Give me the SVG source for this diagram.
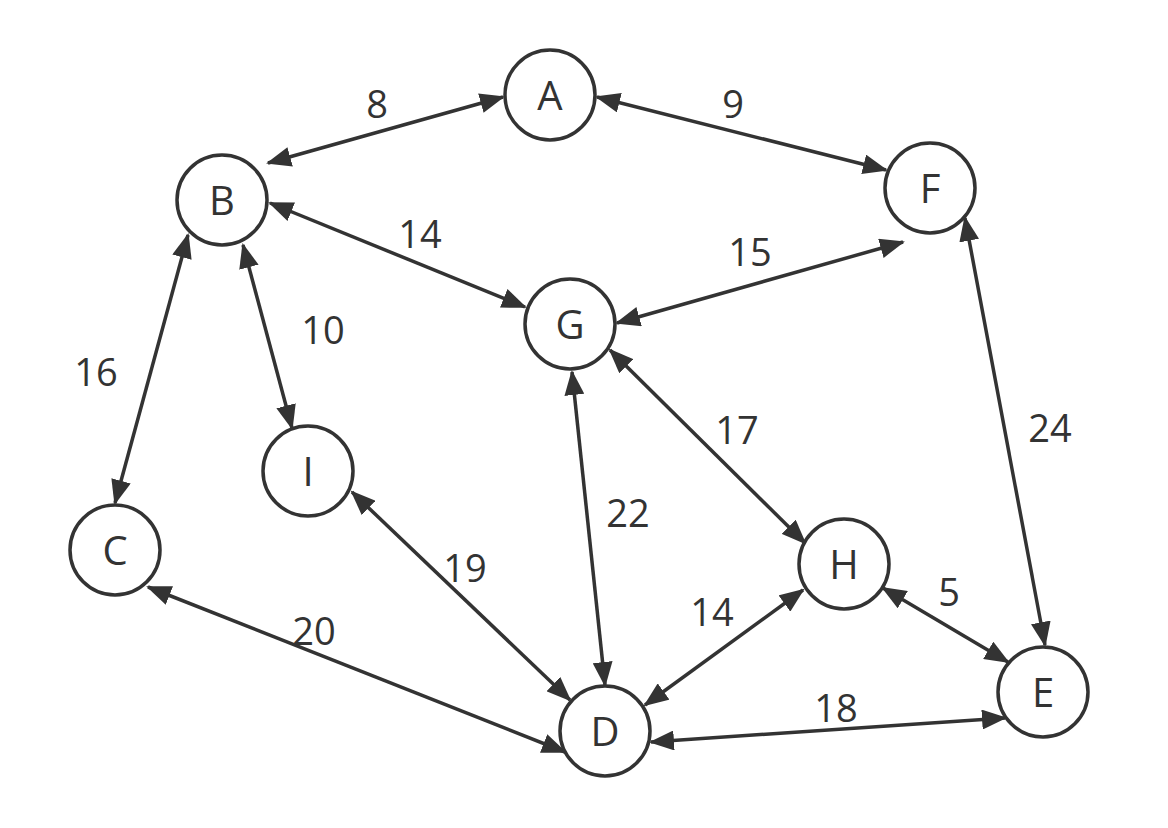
<svg xmlns="http://www.w3.org/2000/svg" width="1168" height="828" viewBox="0 0 1168 828">
<style>
.node circle{fill:#fff;stroke:#333;stroke-width:3.5}
text{font-family:"Open Sans","Noto Sans","DejaVu Sans",sans-serif;font-size:38px;fill:#333;text-anchor:middle}
.node text{font-size:40px}
.edges line{stroke:#333;stroke-width:3.5;marker-start:url(#arr);marker-end:url(#arr)}
</style>
<defs>
<marker id="arr" viewBox="0 0 25 20" markerUnits="userSpaceOnUse" markerWidth="25" markerHeight="20" refX="23" refY="10" orient="auto-start-reverse">
<path d="M0,0 L25,10 L0,20 z" fill="#333"/>
</marker>
</defs>
<rect width="1168" height="828" fill="#fff"/>
<g class="edges" id="connectors">
<line x1="268" y1="163" x2="503" y2="97"/>
<line x1="597" y1="97" x2="886" y2="170"/>
<line x1="270" y1="203" x2="525" y2="307"/>
<line x1="243" y1="245" x2="292" y2="428"/>
<line x1="188" y1="235" x2="115" y2="503"/>
<line x1="903" y1="242" x2="617" y2="323"/>
<line x1="965" y1="218" x2="1045" y2="645"/>
<line x1="572" y1="372" x2="605" y2="685"/>
<line x1="610" y1="350" x2="805" y2="543"/>
<line x1="352" y1="492" x2="570" y2="700"/>
<line x1="148" y1="587" x2="565" y2="752"/>
<line x1="803" y1="590" x2="645" y2="705"/>
<line x1="883" y1="588" x2="1008" y2="662"/>
<line x1="651" y1="742" x2="1005" y2="718"/>
</g>
<g id="edge-labels">
<text x="377" y="118">8</text>
<text x="733" y="118">9</text>
<text x="420" y="248">14</text>
<text x="750" y="266">15</text>
<text x="323" y="344">10</text>
<text x="96" y="386">16</text>
<text x="737" y="444">17</text>
<text x="1050" y="442">24</text>
<text x="628" y="527">22</text>
<text x="465" y="582">19</text>
<text x="314" y="645">20</text>
<text x="712" y="626">14</text>
<text x="949" y="606">5</text>
<text x="836" y="722">18</text>
</g>
<g class="node" id="node-A"><circle cx="550" cy="95" r="45"/><text x="550" y="110">A</text></g>
<g class="node" id="node-B"><circle cx="222" cy="200" r="45"/><text x="222" y="215">B</text></g>
<g class="node" id="node-F"><circle cx="930" cy="188" r="45"/><text x="930" y="203">F</text></g>
<g class="node" id="node-G"><circle cx="570" cy="324" r="45"/><text x="570" y="339">G</text></g>
<g class="node" id="node-I"><circle cx="308" cy="471" r="45"/><text x="308" y="486">I</text></g>
<g class="node" id="node-C"><circle cx="115" cy="550" r="45"/><text x="115" y="565">C</text></g>
<g class="node" id="node-H"><circle cx="844" cy="564" r="45"/><text x="844" y="579">H</text></g>
<g class="node" id="node-E"><circle cx="1043" cy="692" r="45"/><text x="1043" y="707">E</text></g>
<g class="node" id="node-D"><circle cx="605" cy="731" r="45"/><text x="605" y="746">D</text></g>
</svg>
